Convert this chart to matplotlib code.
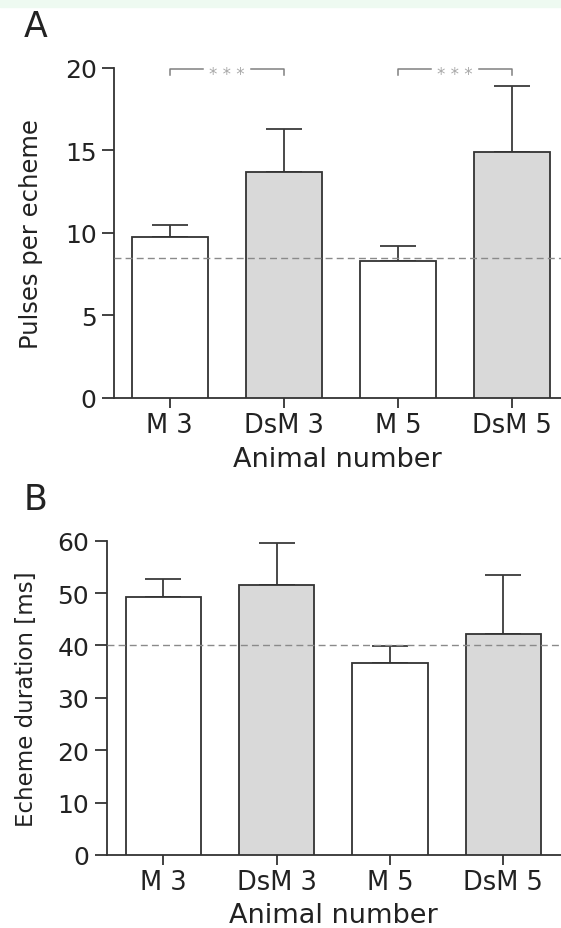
import matplotlib
matplotlib.use("Agg")
import matplotlib.pyplot as plt
from matplotlib.patches import Rectangle

plt.rcParams['font.family'] = ['DejaVu Sans']

# data
animals = ['M 3', 'DsM 3', 'M 5', 'DsM 5']
is_ds = [False, True, False, True]

pulses_mean = [9.72, 13.72, 8.28, 14.92]
pulses_sem = [0.77, 2.60, 0.91, 4.01]
pulses_ref = 8.48

duration_mean = [49.3, 51.6, 36.7, 42.1]
duration_sem = [3.3, 7.9, 3.25, 11.3]
duration_ref = 40.0

sig_pairs = [(0, 1), (2, 3)]
sig_text = '* * *'

W, H = 561, 929
fig = plt.figure(figsize=(W / 100, H / 100), dpi=100)
fig.patches.append(Rectangle((0, 1 - 8 / H), 1, 8 / H, transform=fig.transFigure,
                             color='#eefaf1', zorder=0))

dark = '#333333'
txt = '#222222'
grey_fill = '#d9d9d9'


def panel(ax, means, errs, ref, ymax, ystep, ylabel, ylabel_size, xlim):
    x = list(range(len(animals)))
    colors = [grey_fill if d else 'white' for d in is_ds]
    ax.bar(x, means, width=0.665, color=colors, edgecolor=dark, linewidth=1.3, zorder=3)
    ax.errorbar(x, means, yerr=[[0] * len(errs), errs], fmt='none', ecolor='#3a3a3a',
                elinewidth=1.3, capsize=13, capthick=1.3, zorder=2)
    ax.axhline(ref, color='#8a8a8a', lw=1.0, ls=(0, (5, 3)), zorder=4)
    ax.set_xlim(*xlim)
    ax.set_ylim(0, ymax)
    ax.set_yticks(range(0, ymax + 1, ystep))
    ax.set_xticks(x)
    ax.set_xticklabels(animals)
    for s in ['top', 'right']:
        ax.spines[s].set_visible(False)
    for s in ['left', 'bottom']:
        ax.spines[s].set_color(dark)
        ax.spines[s].set_linewidth(1.3)
    ax.tick_params(axis='both', colors=dark, width=1.3, labelcolor=txt)
    ax.tick_params(axis='y', length=8.5, pad=4, labelsize=18)
    ax.tick_params(axis='x', length=7, pad=3, labelsize=18.5)
    ax.set_ylabel(ylabel, fontsize=ylabel_size, color=txt, va='center')
    ax.set_xlabel('Animal number', fontsize=19.5, color=txt, va='baseline')


ax1 = fig.add_axes([114 / W, 1 - 398.7 / H, 1 - 114 / W, (398.7 - 69) / H])
panel(ax1, pulses_mean, pulses_sem, pulses_ref, 20, 5, 'Pulses per echeme', 17.5,
      (-0.49, 3.43))
ax1.yaxis.set_label_coords(-0.185, 0.5)
ax1.xaxis.set_label_coords(0.5, -0.207)

# significance brackets
for a, b in sig_pairs:
    top, drop = 19.95, 19.55
    mid = (a + b) / 2
    gap = 0.21
    ax1.plot([a, a, mid - gap], [drop, top, top], color='#808080', lw=1.1, clip_on=False)
    ax1.plot([mid + gap, b, b], [top, top, drop], color='#808080', lw=1.1, clip_on=False)
    ax1.annotate(sig_text, (mid, top), xytext=(0, -7.5), textcoords='offset points',
                 ha='center', va='baseline', fontsize=12, color='#a8a8a8')

ax2 = fig.add_axes([106.6 / W, 1 - 856 / H, 1 - 106.6 / W, (856 - 541.7) / H])
panel(ax2, duration_mean, duration_sem, duration_ref, 60, 10, 'Echeme duration [ms]', 16.5,
      (-0.50, 3.51))
ax2.yaxis.set_label_coords(-0.177, 0.5)
ax2.xaxis.set_label_coords(0.5, -0.213)

fig.text(24 / W, 1 - 37 / H, 'A', fontsize=25, color=txt, ha='left', va='baseline')
fig.text(24 / W, 1 - 510 / H, 'B', fontsize=25, color=txt, ha='left', va='baseline')

fig.savefig('out.png', dpi=100)
